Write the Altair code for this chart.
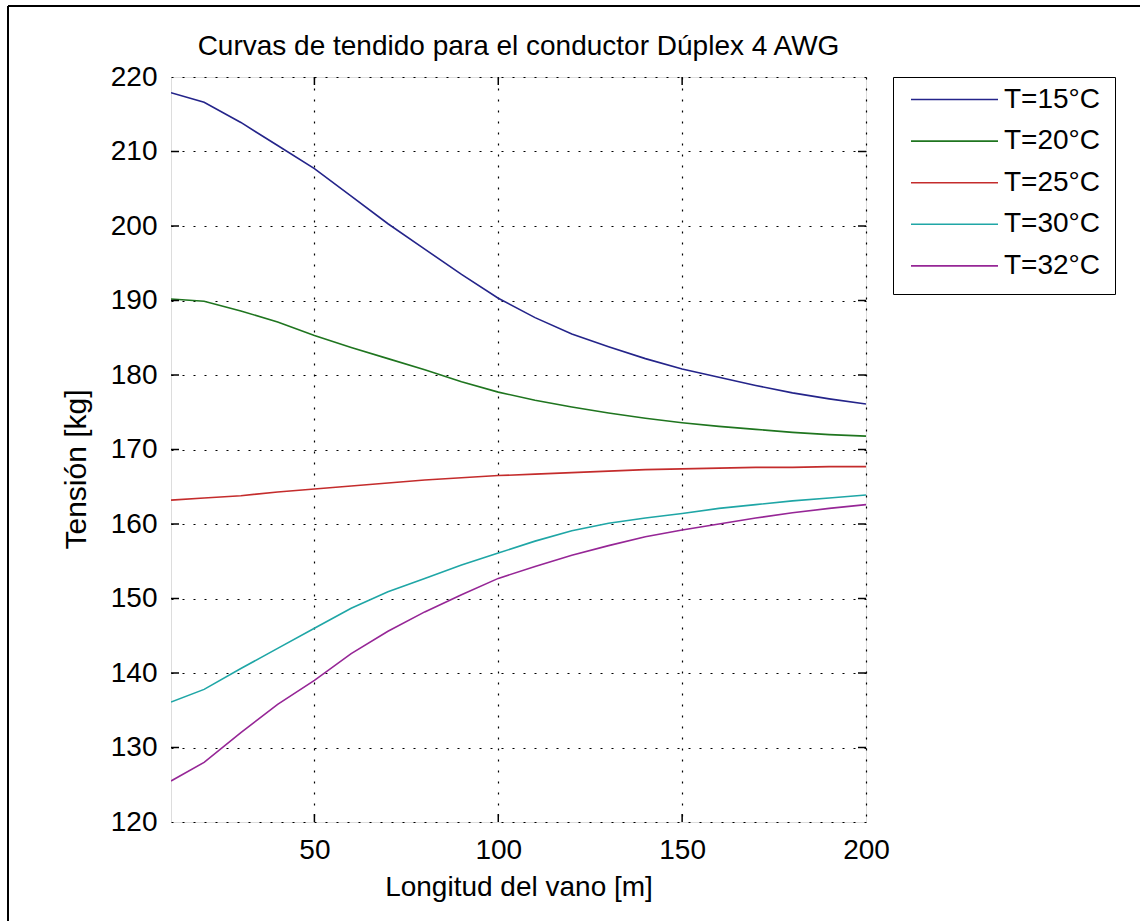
import altair as alt
import pandas as pd

# Span length [m] at which the stringing tension was evaluated
span_m = [11, 20, 30, 40, 50, 60, 70, 80, 90, 100,
          110, 120, 130, 140, 150, 160, 170, 180, 190, 200]

# Tension [kg] for each installation temperature
t15 = [217.9, 216.6, 213.9, 210.8, 207.7, 204.0, 200.3, 196.9, 193.5, 190.3,
       187.7, 185.5, 183.8, 182.2, 180.8, 179.7, 178.6, 177.6, 176.8, 176.1]
t20 = [190.2, 189.9, 188.6, 187.1, 185.3, 183.7, 182.2, 180.7, 179.1, 177.7,
       176.6, 175.7, 174.9, 174.2, 173.6, 173.1, 172.7, 172.3, 172.0, 171.8]
t25 = [163.2, 163.5, 163.8, 164.3, 164.7, 165.1, 165.5, 165.9, 166.2, 166.5,
       166.7, 166.9, 167.1, 167.3, 167.4, 167.5, 167.6, 167.6, 167.7, 167.7]
t30 = [136.1, 137.8, 140.6, 143.3, 146.0, 148.7, 150.9, 152.7, 154.5, 156.1,
       157.7, 159.1, 160.1, 160.8, 161.4, 162.1, 162.6, 163.1, 163.5, 163.9]
t32 = [125.5, 128.0, 132.0, 135.8, 139.0, 142.6, 145.6, 148.2, 150.5, 152.7,
       154.3, 155.8, 157.1, 158.3, 159.2, 160.0, 160.8, 161.5, 162.1, 162.6]

series_labels = ["T=15°C", "T=20°C", "T=25°C", "T=30°C", "T=32°C"]
series_colors = ["#24248a", "#1f751f", "#c42c2c", "#1fa6a6", "#962696"]

x_ticks = [50, 100, 150, 200]
y_ticks = [120, 130, 140, 150, 160, 170, 180, 190, 200, 210, 220]
x_inner_ticks = [50, 100, 150]
y_inner_ticks = [130, 140, 150, 160, 170, 180, 190, 200, 210]

rows = []
for label, values in zip(series_labels, [t15, t20, t25, t30, t32]):
    for x, y in zip(span_m, values):
        rows.append({"span": x, "tension": y, "serie": label})
df = pd.DataFrame(rows)

FONT = "Liberation Sans"
W, H = 695, 745
TICK = 8

x_scale = alt.Scale(domain=[11, 200], nice=False, zero=False)
y_scale = alt.Scale(domain=[120, 220], nice=False, zero=False)

x_axis = alt.Axis(
    title="Longitud del vano [m]", values=x_ticks, grid=True,
    gridColor="black", gridOpacity=1, gridDash=[2, 9], gridWidth=1.2,
    ticks=False, tickSize=0, domain=False, labelFlush=False,
    labelOverlap=False, labelPadding=14, titlePadding=9,
    labelFont=FONT, labelFontSize=28, labelColor="black",
    titleFont=FONT, titleFontSize=28, titleFontWeight="normal",
    titleColor="black",
)
y_axis = alt.Axis(
    title="Tensión [kg]", values=y_ticks, grid=True,
    gridColor="black", gridOpacity=1, gridDash=[2, 9], gridWidth=1.2,
    ticks=False, tickSize=0, domain=False, labelFlush=False,
    labelOverlap=False, labelPadding=14,
    titleX=-95, titleY=392, titleAngle=270, titleAlign="center",
    titleBaseline="middle",
    labelFont=FONT, labelFontSize=28, labelColor="black",
    titleFont=FONT, titleFontSize=30, titleFontWeight="normal",
    titleColor="black",
)

lines = alt.Chart(df).mark_line(strokeWidth=1.6, clip=True).encode(
    x=alt.X("span:Q", scale=x_scale, axis=x_axis),
    y=alt.Y("tension:Q", scale=y_scale, axis=y_axis),
    color=alt.Color(
        "serie:N",
        scale=alt.Scale(domain=series_labels, range=series_colors),
        legend=alt.Legend(
            title=None, orient="none", legendX=722, legendY=0,
            symbolType="stroke", symbolSize=7569, symbolStrokeWidth=1.6,
            symbolOffset=3, labelOffset=5, clipHeight=17, rowPadding=12.6,
            padding=14, strokeColor="black", fillColor="white",
            labelFont=FONT, labelFontSize=28, labelColor="black",
            labelLimit=0,
        ),
    ),
    detail="serie:N",
)

# inward tick marks on all four sides of the axes box
xt = pd.DataFrame({"span": x_inner_ticks})
yt = pd.DataFrame({"tension": y_inner_ticks})
tick_style = dict(color="black", strokeWidth=1.5)

bottom_ticks = alt.Chart(xt).mark_rule(**tick_style).encode(
    x=alt.X("span:Q", scale=x_scale, axis=x_axis),
    y=alt.value(H), y2=alt.value(H - TICK))
top_ticks = alt.Chart(xt).mark_rule(**tick_style).encode(
    x=alt.X("span:Q", scale=x_scale, axis=x_axis),
    y=alt.value(0), y2=alt.value(TICK))
left_ticks = alt.Chart(yt).mark_rule(**tick_style).encode(
    y=alt.Y("tension:Q", scale=y_scale, axis=y_axis),
    x=alt.value(0), x2=alt.value(TICK))
right_ticks = alt.Chart(yt).mark_rule(**tick_style).encode(
    y=alt.Y("tension:Q", scale=y_scale, axis=y_axis),
    x=alt.value(W - TICK), x2=alt.value(W))

# figure frame (top and left edges)
one = pd.DataFrame({"k": [0]})
frame_top = alt.Chart(one).mark_rule(color="black", strokeWidth=2).encode(
    x=alt.value(-163), x2=alt.value(1140), y=alt.value(-71))
frame_left = alt.Chart(one).mark_rule(color="black", strokeWidth=2).encode(
    x=alt.value(-163), y=alt.value(-71), y2=alt.value(921))

chart = alt.layer(
    lines, bottom_ticks, top_ticks, left_ticks, right_ticks,
    frame_top, frame_left,
).properties(
    width=W, height=H,
    title=alt.TitleParams(
        "Curvas de tendido para el conductor Dúplex 4 AWG",
        font=FONT, fontSize=28, fontWeight="normal", color="black",
        anchor="middle", frame="group", baseline="alphabetic", offset=-78,
    ),
    padding={"left": 171, "top": 77, "right": 274, "bottom": 99},
    autosize=alt.AutoSizeParams(type="none"),
).configure_view(
    stroke="black", strokeWidth=2, fill="white",
).configure(
    background="white",
)

chart.save("out.html", embed_options={"renderer": "svg", "actions": False})
